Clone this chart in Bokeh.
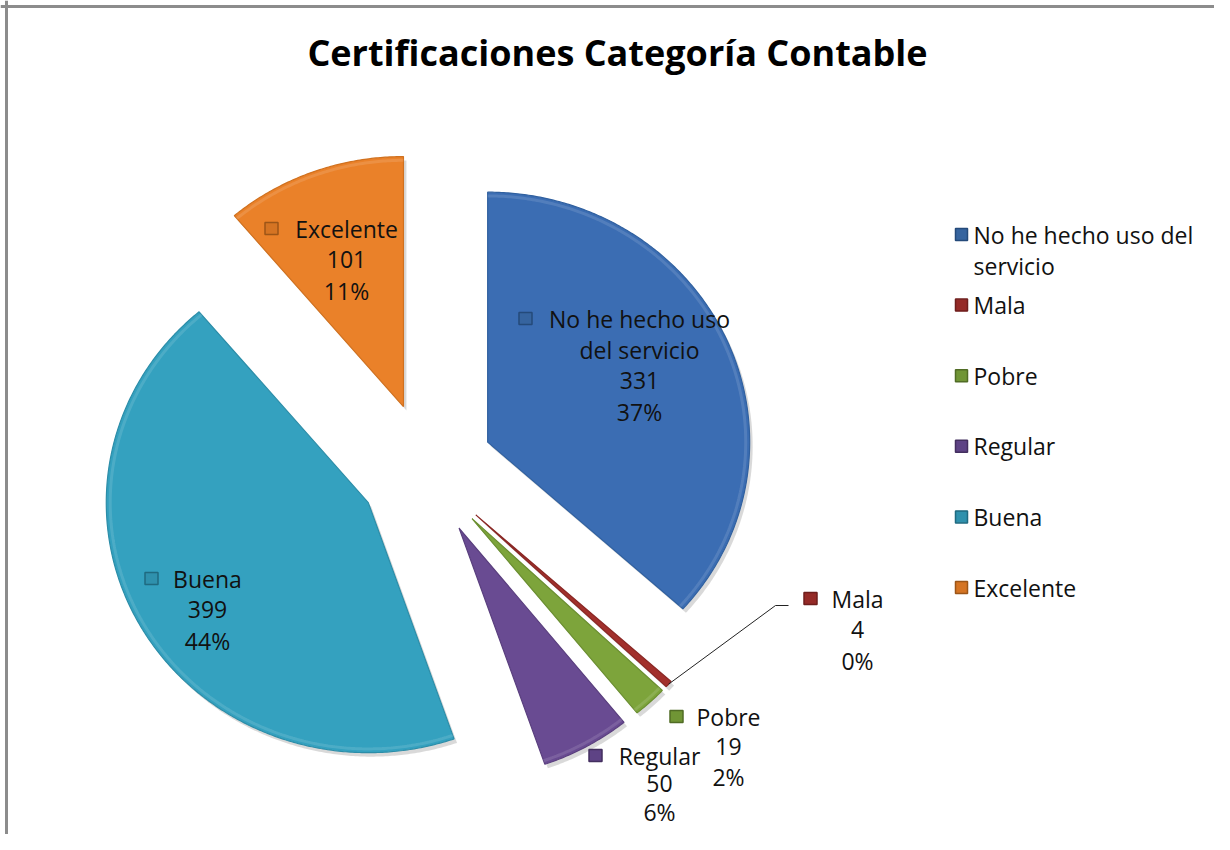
import math
from bokeh.plotting import figure
from bokeh.models import Range1d
from bokeh.core.properties import value
from bokeh.embed import file_html
from bokeh.resources import INLINE

# ---------------- data ----------------
categories = ["No he hecho uso del servicio", "Mala", "Pobre", "Regular", "Buena", "Excelente"]
counts = [331, 4, 19, 50, 399, 101]
label_names = [["No he hecho uso", "del servicio"], ["Mala"], ["Pobre"], ["Regular"], ["Buena"], ["Excelente"]]
legend_names = [["No he hecho uso del", "servicio"], ["Mala"], ["Pobre"], ["Regular"], ["Buena"], ["Excelente"]]
title_text = "Certificaciones Categoría Contable"

# ---------------- styles / layout ----------------
colors = ["#3B6DB3", "#A2302C", "#7DA43B", "#694B92", "#34A1BF", "#EA8129"]
edge_colors = ["#30609F", "#8A2825", "#6B8F31", "#5A3F7E", "#2C8DA8", "#D0711F"]
marker_fill = ["#36649F", "#952A27", "#709535", "#5E4385", "#2F91AD", "#D57423"]
marker_edge = ["#244A7A", "#6E1E1C", "#506C25", "#432F5F", "#1F6A80", "#9C5517"]
W, H = 1214, 834
CX, CY = 426, 469          # pie centre (screen px)
RX, RY = 262, 250          # pie radii
EXPLODE = 67
LABEL_FONT = value("Open Sans")
LFS = "23px"
# label anchors relative to pie centre, and marker offsets relative to label centre
label_dx = [213, 431, 302, 233, -219, -80]
label_dy = [-151, 129, 247, 286, 109, -241]
label_step = [31, 31, 30, 28, 31, 31]
marker_dx = [-114, -47, -52, -64, -56, -75]

p = figure(width=W, height=H, output_backend="svg", toolbar_location=None,
           x_range=Range1d(0, W), y_range=Range1d(H, 0),
           min_border=0, outline_line_color=None)
p.axis.visible = False
p.grid.visible = False
p.background_fill_color = "white"
p.border_fill_color = "white"

total = sum(counts)
start = 0.0
xs_all, ys_all, sx_all, sy_all = [], [], [], []
apexes, mids = [], []
for v in counts:
    a0 = start
    a1 = start + v / total * 360.0
    mid = math.radians((a0 + a1) / 2)
    ax = CX + EXPLODE * math.sin(mid)
    ay = CY - EXPLODE * math.cos(mid)
    n = max(3, int((a1 - a0) * 2))
    xs = [ax]
    ys = [ay]
    for k in range(n + 1):
        t = math.radians(a0 + (a1 - a0) * k / n)
        xs.append(ax + RX * math.sin(t))
        ys.append(ay - RY * math.cos(t))
    xs_all.append(xs)
    ys_all.append(ys)
    sx_all.append([x + 3 for x in xs])
    sy_all.append([y + 4 for y in ys])
    apexes.append((ax, ay))
    mids.append(mid)
    start = a1

# shadows
p.patches(sx_all, sy_all, fill_color="#000000", fill_alpha=0.15, line_color=None)
# slices
p.patches(xs_all, ys_all, fill_color=colors, line_color=edge_colors, line_width=1.2)

# subtle highlight rim along outer arcs
for i, v in enumerate(counts):
    xs = xs_all[i][1:]
    ys = ys_all[i][1:]
    if len(xs) > 4:
        ax, ay = apexes[i]
        ix = [ax + (x - ax) * 0.985 for x in xs]
        iy = [ay + (y - ay) * 0.985 for y in ys]
        p.line(ix, iy, line_color="white", line_alpha=0.12, line_width=3)

# title
p.text(x=[617], y=[52], text=[title_text], text_font=value("Open Sans"),
       text_font_size="36px", text_font_style="bold", text_align="center",
       text_baseline="middle", text_color="#000000")

# data labels
for i, v in enumerate(counts):
    cx = CX + label_dx[i]
    cy = CY + label_dy[i]
    pct = f"{round(v / total * 100):.0f}%"
    lines = label_names[i] + [str(v), pct]
    p.text(x=[cx] * len(lines), y=[cy + k * label_step[i] for k in range(len(lines))], text=lines,
           text_font=LABEL_FONT, text_font_size=LFS, text_align="center",
           text_baseline="middle", text_color="#111111")
    p.rect(x=[cx + marker_dx[i]], y=[cy], width=13, height=12, fill_color=marker_fill[i],
           line_color=marker_edge[i], line_width=1.5)

# leader line for Mala
mi = 1
ax, ay = apexes[mi]
tipx = ax + RX * math.sin(mids[mi])
tipy = ay - RY * math.cos(mids[mi])
mkx = CX + label_dx[mi] + marker_dx[mi]
mky = CY + label_dy[mi] + 7
p.line([tipx, mkx - 35, mkx - 22], [tipy, mky, mky], line_color="#222222", line_width=1)

# legend
LEG_X, LEG_Y, LEG_STEP = 961, 234, 70.6
for i in range(len(categories)):
    y0 = LEG_Y + i * LEG_STEP
    p.rect(x=[LEG_X], y=[y0], width=12, height=12, fill_color=marker_fill[i],
           line_color=marker_edge[i], line_width=1.5)
    for k, t in enumerate(legend_names[i]):
        p.text(x=[LEG_X + 12], y=[y0 + k * 31], text=[t], text_font=LABEL_FONT,
               text_font_size=LFS, text_align="left", text_baseline="middle",
               text_color="#111111")

# chart-area border (top and left)
p.line([6, 6], [0, H], line_color="#8C8C8C", line_width=3)
p.line([0, W], [6, 6], line_color="#8C8C8C", line_width=3)

open("out.html", "w").write(file_html(p, INLINE))
